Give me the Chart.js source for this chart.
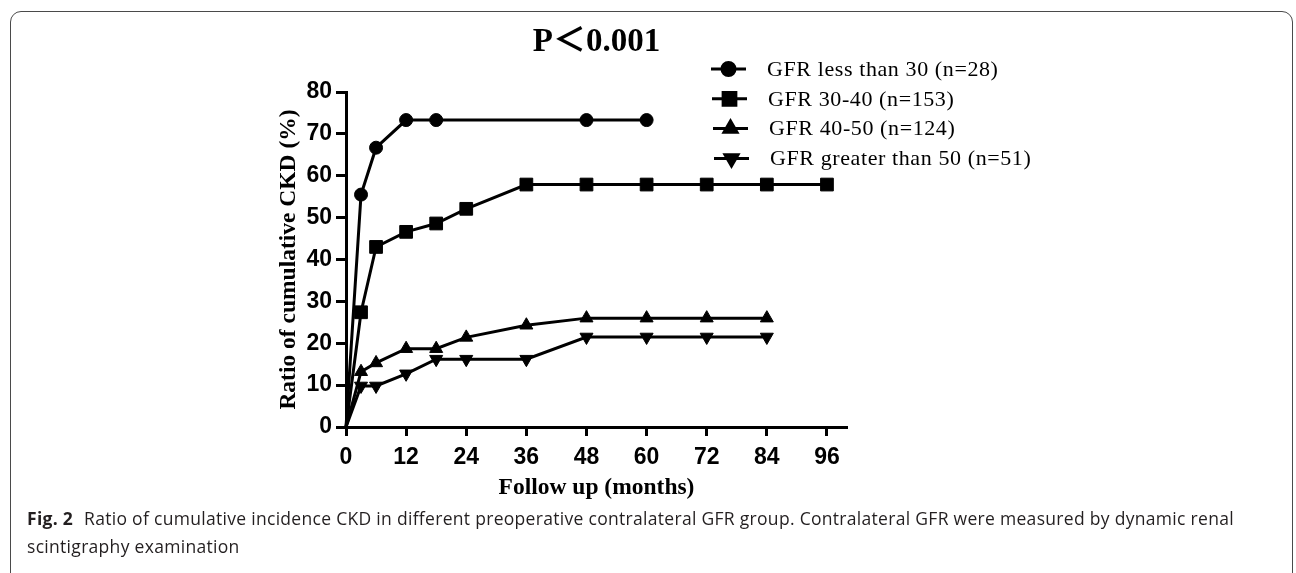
<!DOCTYPE html>
<html>
<head>
<meta charset="utf-8">
<script src="https://cdn.jsdelivr.net/npm/chart.js@4.4.1/dist/chart.umd.min.js"></script>
<style>
  body { margin: 0; background: #fff; }
  #wrap { position: relative; width: 1296px; height: 573px; overflow: hidden; }
  #frame {
    position: absolute; left: 10px; top: 11px; width: 1283px; height: 580px;
    border: 1.5px solid #4a4a4a; border-radius: 11px; box-sizing: border-box;
  }
  #chart { position: absolute; left: 0; top: 0; }
  #caption {
    position: absolute; left: 27px; top: 504px; width: 1260px;
    font-family: "Open Sans", sans-serif; font-size: 17.5px; line-height: 28px;
    letter-spacing: 0.3px; color: #231f20; white-space: nowrap;
  }
  #caption b { font-weight: 700; margin-right: 6px; }
</style>
</head>
<body>
<div id="wrap">
  <div id="frame"></div>
  <canvas id="chart" width="1296" height="573"></canvas>
  <div id="caption"><b>Fig. 2</b> Ratio of cumulative incidence CKD in different preoperative contralateral GFR group. Contralateral GFR were measured by dynamic renal<br>scintigraphy examination</div>
</div>
<script>
// group labels and marker shapes
const groups = ["GFR less than 30 (n=28)", "GFR 30-40 (n=153)", "GFR 40-50 (n=124)", "GFR greater than 50 (n=51)"];

// follow up months and cumulative CKD ratio (%) per group
const months1 = [0, 3, 6, 12, 18, 48, 60];
const ckd1 = [0, 55.5, 66.7, 73.3, 73.3, 73.3, 73.3];

const months2 = [0, 3, 6, 12, 18, 24, 36, 48, 60, 72, 84, 96];
const ckd2 = [0, 27.4, 43.0, 46.6, 48.6, 52.1, 57.9, 57.9, 57.9, 57.9, 57.9, 57.9];

const months3 = [0, 3, 6, 12, 18, 24, 36, 48, 60, 72, 84];
const ckd3 = [0, 13.2, 15.3, 18.7, 18.7, 21.4, 24.3, 26.0, 26.0, 26.0, 26.0];

const months4 = [0, 3, 6, 12, 18, 24, 36, 48, 60, 72, 84];
const ckd4 = [0, 9.8, 9.8, 12.7, 16.2, 16.2, 16.2, 21.5, 21.5, 21.5, 21.5];

const xTicks = [0, 12, 24, 36, 48, 60, 72, 84, 96];
const yTicks = [0, 10, 20, 30, 40, 50, 60, 70, 80];

const styles = [
  { pointStyle: "circle", radius: 6.5, rotation: 0 },
  { pointStyle: "rect", radius: 9, rotation: 0 },
  { pointStyle: "triangle", radius: 7.5, rotation: 0 },
  { pointStyle: "triangle", radius: 7.5, rotation: 180 }
];

function series(xs, ys) {
  return xs.map((x, i) => ({ x: x, y: ys[i] }));
}

const allData = [series(months1, ckd1), series(months2, ckd2), series(months3, ckd3), series(months4, ckd4)];

const datasets = allData.map((d, i) => ({
  label: groups[i],
  data: d,
  borderColor: "#000",
  backgroundColor: "#000",
  borderWidth: 3,
  pointStyle: styles[i].pointStyle,
  pointRotation: styles[i].rotation,
  pointRadius: ctx => ctx.dataIndex === 0 ? 0 : styles[i].radius,
  pointBorderWidth: 1,
  pointBackgroundColor: "#000",
  pointBorderColor: "#000",
  tension: 0,
  clip: false
}));

const serif = '"Liberation Serif", "Times New Roman", serif';
const tickFont = { family: '"Liberation Sans", Arial, sans-serif', size: 23, weight: "bold" };

// title "P<0.001" and a line+marker legend, drawn on the canvas
const extras = {
  id: "extras",
  afterDraw(chart) {
    const ctx = chart.ctx;
    const area = chart.chartArea;
    ctx.save();
    ctx.fillStyle = "#000";
    ctx.textAlign = "center";
    ctx.textBaseline = "middle";
    ctx.font = 'bold 33px "Liberation Serif", "Noto Sans CJK SC", serif';
    ctx.fillText("P＜0.001", (area.left + area.right) / 2, 42);

    ctx.font = "22px " + serif;
    ctx.letterSpacing = "0.6px";
    ctx.textAlign = "left";
    groups.forEach((g, i) => {
      const y = 69 + i * 29.8;
      const x0 = 711 + i, x1 = 746 + i;
      ctx.strokeStyle = "#000";
      ctx.lineWidth = 3;
      ctx.beginPath();
      ctx.moveTo(x0, y);
      ctx.lineTo(x1, y);
      ctx.stroke();
      Chart.helpers.drawPoint(ctx, {
        pointStyle: styles[i].pointStyle,
        rotation: styles[i].rotation,
        radius: styles[i].radius,
        borderWidth: 1
      }, (x0 + x1) / 2, y);
      ctx.fillStyle = "#000";
      ctx.fill();
      ctx.fillText(g, 767 + i, y + 1);
    });
    ctx.restore();
  }
};

new Chart(document.getElementById("chart"), {
  type: "line",
  data: { datasets: datasets },
  options: {
    responsive: false,
    animation: false,
    layout: { padding: { left: 275, right: 449, top: 92, bottom: 71 } },
    plugins: { legend: { display: false }, tooltip: { enabled: false } },
    scales: {
      x: {
        type: "linear",
        min: 0,
        max: 100,
        afterBuildTicks: s => { s.ticks = xTicks.map(v => ({ value: v })); },
        afterFit: s => { s.height = 75; },
        grid: { drawOnChartArea: false, drawTicks: true, tickLength: 9, tickWidth: 3, tickColor: "#000" },
        border: { color: "#000", width: 3 },
        ticks: { color: "#000", font: tickFont, padding: 8, maxRotation: 0, autoSkip: false },
        title: { display: true, text: "Follow up (months)", color: "#000", padding: 0,
                 font: { family: serif, size: 23.5, weight: "bold" } }
      },
      y: {
        min: 0,
        max: 80,
        afterBuildTicks: s => { s.ticks = yTicks.map(v => ({ value: v })); },
        afterFit: s => { s.width = 71; },
        grid: { drawOnChartArea: false, drawTicks: true, tickLength: 10, tickWidth: 3, tickColor: "#000" },
        border: { color: "#000", width: 3 },
        ticks: { color: "#000", font: tickFont, padding: 4 },
        title: { display: true, text: "Ratio of cumulative CKD (%)", color: "#000", padding: 0,
                 font: { family: serif, size: 23.5, weight: "bold" } }
      }
    }
  },
  plugins: [extras]
});
</script>
</body>
</html>
